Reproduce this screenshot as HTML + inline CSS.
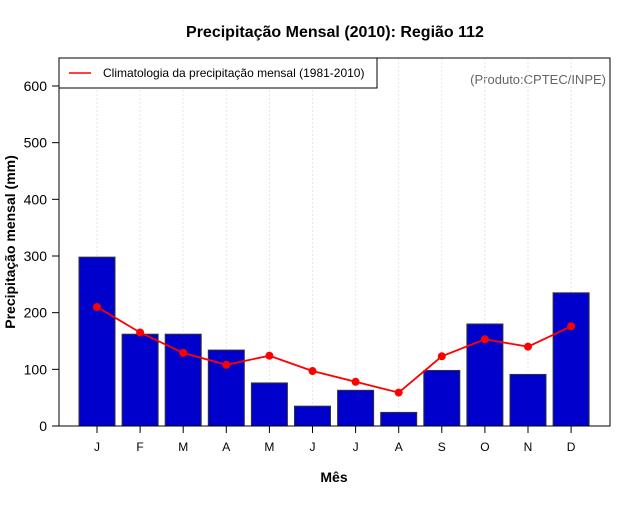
<!DOCTYPE html>
<html><head><meta charset="utf-8"><style>
body{margin:0;background:#fff}
svg{font-family:"Liberation Sans",sans-serif}
</style></head><body>
<svg id="c" width="640" height="500" xmlns="http://www.w3.org/2000/svg">
<text x="335" y="37" text-anchor="middle" font-size="16" font-weight="bold">Precipitação Mensal (2010): Região 112</text>
<text x="334" y="482" text-anchor="middle" font-size="14" font-weight="bold">Mês</text>
<text transform="translate(15,242) rotate(-90)" text-anchor="middle" font-size="14" font-weight="bold">Precipitação mensal (mm)</text>
<text x="606" y="84" text-anchor="end" font-size="13" fill="#666">(Produto:CPTEC/INPE)</text>
<g id="grid"></g><g id="bars"></g><g id="line"></g><g id="axes"></g>
<rect x="59" y="58" width="551" height="368" fill="none" stroke="#000" stroke-width="1"/>
<g>
<rect x="59" y="58" width="318" height="30" fill="#fff" stroke="#000"/>
<line x1="69" y1="73" x2="91" y2="73" stroke="red" stroke-width="1.5"/>
<text x="103" y="77" font-size="12">Climatologia da precipitação mensal (1981-2010)</text>
</g>
</svg>
<script>
const months=["J","F","M","A","M","J","J","A","S","O","N","D"];
const precip=[298,162,162,134,76,35,63,24,98,180,91,235];
const climatology=[210,165,129,108,124,97,78,59,123,153,140,176];
const yTicks=[0,100,200,300,400,500,600];
const NS="http://www.w3.org/2000/svg";
const x=i=>97+i*43.1;
const y=v=>426-v*(340/600);
function mk(t,a,p){const e=document.createElementNS(NS,t);for(const k in a)e.setAttribute(k,a[k]);document.getElementById(p).appendChild(e);return e;}
months.forEach((m,i)=>{
 const g=mk("line",{x1:x(i),x2:x(i),y1:58,y2:426,stroke:"#e6e6e6","stroke-dasharray":"2,2"},"grid");
 
 
 const b=mk("rect",{x:x(i)-18,y:y(precip[i]),width:36,height:426-y(precip[i]),fill:"#0000cc",stroke:"#333","stroke-width":1},"bars");
 
 
 const t=mk("line",{x1:x(i),x2:x(i),y1:426,y2:433,stroke:"#000"},"axes");
 
 
 const l=mk("text",{x:x(i),y:451,"text-anchor":"middle","font-size":12},"axes");l.textContent=m;
 
 
});
const pl=mk("polyline",{points:climatology.map((v,i)=>x(i)+","+y(v)).join(" "),fill:"none",stroke:"red","stroke-width":1.8},"line");


climatology.forEach((v,i)=>{
 const c=mk("circle",{cx:x(i),cy:y(v),r:4,fill:"red"},"line");
 
 
});
yTicks.forEach(v=>{
 const t=mk("line",{x1:52,x2:59,y1:y(v),y2:y(v),stroke:"#000"},"axes");
 
 
 const l=mk("text",{x:47,y:y(v)+5,"text-anchor":"end","font-size":14},"axes");l.textContent=v;
 
 
});
</script>
</body></html>
